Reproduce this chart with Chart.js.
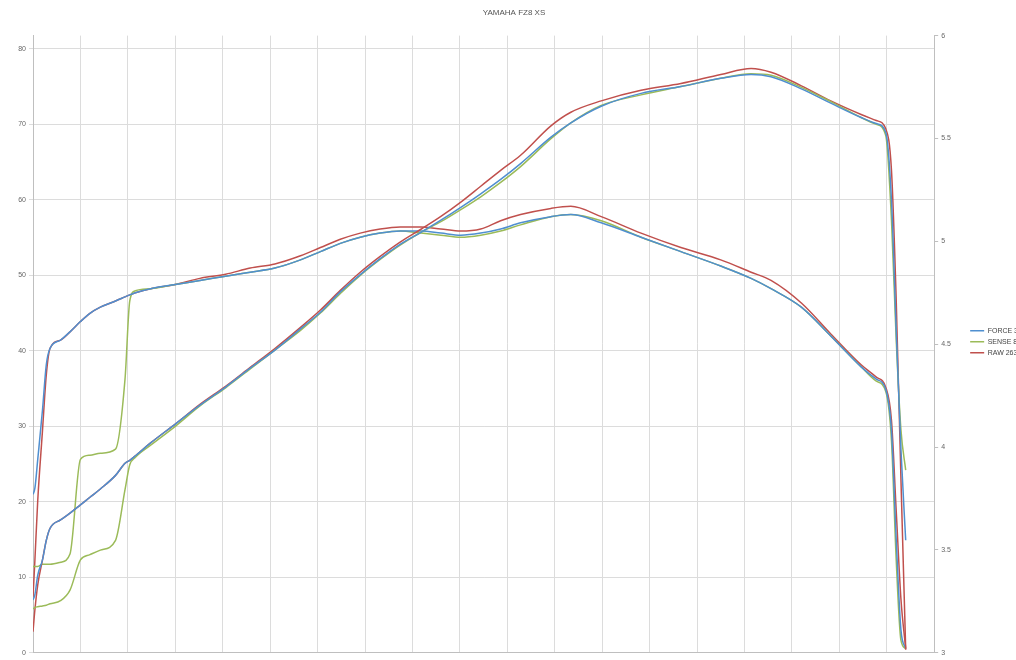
<!DOCTYPE html>
<html>
<head>
<meta charset="utf-8">
<title>YAMAHA FZ8 XS</title>
<script src="https://cdn.jsdelivr.net/npm/chart.js@4.4.1/dist/chart.umd.min.js"></script>
<style>
  html, body { margin: 0; padding: 0; background: #fff; overflow: hidden; }
  #wrap { position: relative; width: 1028px; height: 660px; }
</style>
</head>
<body>
<div id="wrap"><canvas id="dyno"></canvas></div>
<script>
const chartTitle = "YAMAHA FZ8 XS";
const seriesNames = ["FORCE 3", "SENSE 8", "RAW 263"];

// rpm samples shared by every run
const rpm = [1000, 1020, 1050, 1100, 1140, 1180, 1290, 1390, 1500, 1600,
  1710, 1870, 1970, 2020, 2080, 2240, 2500, 2760, 3030, 3290,
  3550, 3820, 4030, 4240, 4450, 4660, 4870, 5090, 5300, 5510,
  5720, 5930, 6140, 6460, 6670, 6990, 7410, 7830, 8250, 8570,
  8780, 9100, 9410, 9730, 9890, 9990, 10050, 10100, 10150, 10200];

// power (left axis)
const forcePower = [7.0, 7.7, 10.3, 12.3, 14.9, 16.5, 17.6, 18.5, 19.6, 20.6,
  21.7, 23.5, 25.1, 25.5, 26.1, 27.8, 30.3, 32.8, 35.2, 37.7,
  40.1, 42.9, 45.1, 47.8, 50.1, 52.2, 54.1, 55.7, 57.3, 59.0,
  60.8, 62.7, 64.8, 68.3, 70.2, 72.4, 74.1, 75.0, 76.1, 76.6,
  76.3, 74.7, 72.8, 70.9, 70.1, 68.9, 59.9, 42.7, 26.9, 14.9];
const sensePower = [5.8, 6.0, 6.1, 6.2, 6.3, 6.5, 6.9, 8.3, 12.3, 13.0,
  13.6, 14.9, 21.6, 24.9, 25.9, 27.5, 30.0, 32.7, 35.1, 37.6,
  40.1, 42.7, 45.0, 47.6, 50.0, 52.1, 54.0, 55.7, 57.1, 58.7,
  60.4, 62.3, 64.4, 68.1, 70.2, 72.5, 73.9, 75.0, 76.1, 76.7,
  76.5, 74.9, 73.0, 70.9, 70.0, 68.5, 57.3, 41.4, 29.5, 24.2];
const rawPower = [2.8, 5.7, 9.0, 12.3, 14.9, 16.5, 17.6, 18.5, 19.6, 20.6,
  21.7, 23.5, 25.1, 25.5, 26.1, 27.8, 30.3, 32.9, 35.3, 37.8,
  40.3, 43.1, 45.4, 48.0, 50.4, 52.5, 54.4, 56.1, 57.8, 59.7,
  61.8, 63.9, 65.9, 69.8, 71.6, 73.1, 74.5, 75.4, 76.6, 77.4,
  76.9, 75.1, 73.1, 71.3, 70.5, 69.4, 63.9, 46.7, 22.9, 0.4];

// torque (right axis)
const forceTorque = [3.77, 3.80, 3.94, 4.18, 4.40, 4.48, 4.52, 4.56, 4.61, 4.65,
  4.68, 4.71, 4.73, 4.74, 4.75, 4.77, 4.79, 4.81, 4.83, 4.85,
  4.87, 4.91, 4.95, 4.99, 5.02, 5.04, 5.05, 5.05, 5.04, 5.03,
  5.04, 5.06, 5.09, 5.12, 5.13, 5.09, 5.02, 4.95, 4.88, 4.82,
  4.77, 4.68, 4.54, 4.39, 4.33, 4.28, 4.08, 3.55, 3.11, 3.02];
const senseTorque = [3.42, 3.42, 3.42, 3.43, 3.43, 3.43, 3.44, 3.48, 3.94, 3.96,
  3.97, 3.99, 4.33, 4.71, 4.76, 4.77, 4.79, 4.81, 4.83, 4.85,
  4.87, 4.91, 4.95, 4.99, 5.02, 5.04, 5.05, 5.04, 5.03, 5.02,
  5.03, 5.05, 5.08, 5.12, 5.13, 5.10, 5.02, 4.95, 4.88, 4.82,
  4.77, 4.68, 4.54, 4.39, 4.32, 4.27, 4.03, 3.45, 3.06, 3.02];
const rawTorque = [3.27, 3.45, 3.74, 4.08, 4.35, 4.48, 4.52, 4.56, 4.61, 4.65,
  4.68, 4.71, 4.73, 4.74, 4.75, 4.77, 4.79, 4.82, 4.84, 4.87,
  4.89, 4.93, 4.97, 5.01, 5.04, 5.06, 5.07, 5.07, 5.06, 5.05,
  5.06, 5.10, 5.13, 5.16, 5.17, 5.12, 5.04, 4.97, 4.91, 4.85,
  4.81, 4.70, 4.55, 4.40, 4.34, 4.29, 4.13, 3.69, 3.26, 3.02];

const palette = ["#4f8fd0", "#9bbb59", "#c0504d"];

function toPoints(values) {
  return values.map((v, i) => ({ x: rpm[i], y: v }));
}

function makeSet(label, values, color, axis) {
  return {
    label,
    data: toPoints(values),
    yAxisID: axis,
    borderColor: color,
    backgroundColor: color,
    borderWidth: 1.5,
    pointRadius: 0,
    fill: false,
    cubicInterpolationMode: "monotone",
  };
}

const datasets = [
  makeSet(seriesNames[0], forcePower, palette[0], "y"),
  makeSet(seriesNames[1], sensePower, palette[1], "y"),
  makeSet(seriesNames[2], rawPower, palette[2], "y"),
  makeSet(seriesNames[0] + " Nm", forceTorque, palette[0], "y1"),
  makeSet(seriesNames[1] + " Nm", senseTorque, palette[1], "y1"),
  makeSet(seriesNames[2] + " Nm", rawTorque, palette[2], "y1"),
];

const fontFamily = "'Liberation Sans', Arial, sans-serif";
const tickFont = { family: fontFamily, size: 7 };
const gridColor = "#dcdcdc";

new Chart(document.getElementById("dyno"), {
  type: "line",
  data: { datasets },
  options: {
    responsive: true,
    maintainAspectRatio: false,
    animation: false,
    layout: { padding: { left: 0, right: 0, top: 0, bottom: 7 } },
    plugins: {
      title: {
        display: true,
        text: chartTitle,
        color: "#555",
        font: { family: fontFamily, size: 8, weight: "normal" },
        padding: { top: 8, bottom: 18 },
      },
      legend: {
        position: "right",
        align: "center",
        title: {
          display: true,
          text: " ",
          font: { family: fontFamily, size: 7 },
          padding: { top: 0, bottom: 22 },
        },
        labels: {
          filter: (item) => item.datasetIndex < 3,
          usePointStyle: true,
          pointStyle: "line",
          pointStyleWidth: 14,
          boxHeight: 6,
          padding: 4,
          color: "#444",
          font: { family: fontFamily, size: 7 },
        },
      },
      tooltip: { enabled: false },
    },
    scales: {
      x: {
        type: "linear",
        min: 1000,
        max: 10500,
        ticks: { display: false, stepSize: 500 },
        grid: { color: gridColor, drawTicks: false },
        border: { color: "#bfbfbf" },
      },
      y: {
        position: "left",
        min: 0,
        max: 81.75,
        afterBuildTicks: (axis) => {
          axis.ticks = axis.ticks.filter((t) => t.value % 10 === 0);
        },
        afterFit: (axis) => { axis.width = 33; },
        ticks: { stepSize: 10, color: "#666", font: tickFont, padding: 3 },
        grid: { color: gridColor, tickLength: 4 },
        border: { color: "#bfbfbf" },
      },
      y1: {
        position: "right",
        min: 3,
        max: 6,
        afterFit: (axis) => { axis.width = 32; },
        ticks: {
          stepSize: 0.5,
          color: "#666",
          font: tickFont,
          padding: 3,
          callback: (value) => String(value),
        },
        grid: { drawOnChartArea: false, tickLength: 4, color: "#bfbfbf" },
        border: { color: "#bfbfbf" },
      },
    },
  },
});
</script>
</body>
</html>
